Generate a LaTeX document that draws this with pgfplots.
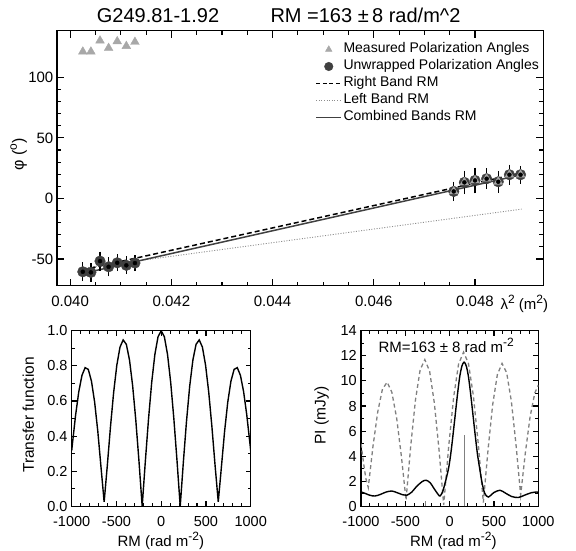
\documentclass[border=0pt]{standalone}
\usepackage{pgfplots}
\usepackage{pgfplotstable}
\pgfplotsset{compat=1.18}
\usepackage{fontspec}
\setmainfont{Liberation Sans}
\definecolor{dg}{gray}{0.25}
\definecolor{lg}{gray}{0.66}
\definecolor{dotc}{gray}{0.55}
\definecolor{dashc}{gray}{0.5}
\newcommand{\SP}[1]{\raisebox{0.42em}{\fontsize{12}{12}\selectfont #1}}

\pgfplotstableread{
x y e
0.04025 -60.5 5.5
0.04041 -61.0 5.5
0.04059 -51.7 5.5
0.04076 -56.4 5.5
0.04093 -53.1 4.6
0.04111 -55.2 5.0
0.04128 -53.3 4.3
}\leftgrp
\pgfplotstableread{
x y e
0.04758 5.8 5.7
0.04779 13.3 7.3
0.04800 14.9 8.3
0.04823 16.3 6.2
0.04846 13.8 6.6
0.04868 19.6 6.0
0.04890 19.6 5.1
}\rightgrp
\pgfplotstableread{
x y
0.04025 121.2
0.04041 121.2
0.04059 130.3
0.04076 124.2
0.04093 129.7
0.04111 125.8
0.04128 129.2
0.04758 5.8
0.04779 13.3
0.04800 14.9
0.04823 16.3
0.04846 13.8
0.04868 19.6
0.04890 19.6
}\measured

\pgfplotsset{
  idl/.style={
    scale only axis, clip=true,
    axis line style={line width=1.3pt},
    tick align=inside,
    tick style={black, line width=1.1pt},
    /pgf/number format/assume math mode=true,
    /pgf/number format/set thousands separator={},
    tick label style={inner sep=0pt},
  }
}

\begin{document}
\begin{tikzpicture}
% ---------------- top panel ----------------
\begin{axis}[idl,
  at={(57pt,265.3pt)}, anchor=south west,
  width=486.3pt, height=255pt,
  xmin=0.03974, xmax=0.04935, ymin=-72, ymax=138.5,
  xtick={0.040,0.042,0.044,0.046,0.048}, minor x tick num=3,
  ytick={-50,0,50,100}, minor y tick num=4,
  major tick length=7pt, minor tick length=4pt,
  scaled x ticks=false,
  tick label style={font=\fontsize{15}{18}\selectfont},
  x tick label style={/pgf/number format/fixed,/pgf/number format/fixed zerofill,/pgf/number format/precision=3},
  xticklabel shift=10.5pt, yticklabel shift=3.5pt,
  legend style={draw=none, fill=none, inner sep=0pt, outer sep=0pt,
    at={(0.5316,0.9596)}, anchor=north west,
    font=\fontsize{14}{16}\selectfont,
    nodes={inner sep=1.5pt, text height=10.5pt, text depth=3.5pt},
    row sep=0pt},
  legend cell align=left,
  legend image code/.code={\draw[mark repeat=2,mark phase=2,#1] plot coordinates {(0pt,0pt) (12.5pt,0pt) (25pt,0pt)};},
]
\addlegendimage{only marks, mark=triangle*, mark size=3.8pt, color=lg}
\addlegendentry{Measured Polarization Angles}
\addlegendimage{only marks, mark=*, mark size=4.3pt, color=dg}
\addlegendentry{Unwrapped Polarization Angles}
\addlegendimage{black, line width=1.5pt, dash pattern=on 4pt off 2.5pt}
\addlegendentry{Right Band RM}
\addlegendimage{dotc, line width=0.9pt, dash pattern=on 1pt off 1.6pt}
\addlegendentry{Left Band RM}
\addlegendimage{dg, line width=1.5pt}
\addlegendentry{Combined Bands RM}

% fitted lines
\addplot[forget plot, dotc, line width=0.9pt, dash pattern=on 1pt off 1.6pt] coordinates {(0.04025,-57.6) (0.04892,-8.8)};
\addplot[forget plot, black, line width=1.5pt, dash pattern=on 5pt off 3pt] coordinates {(0.04025,-58.9) (0.04890,20.9)};
\addplot[forget plot, dg, line width=1.5pt] coordinates {(0.04025,-61.9) (0.04890,19.4)};

% unwrapped angles
\addplot[forget plot, only marks, mark=*, mark size=5.3pt, color=dg] table[x=x,y=y]{\leftgrp};
\addplot[forget plot, only marks, mark=*, mark size=5.3pt, color=dg] table[x=x,y=y]{\rightgrp};
% measured angles
\addplot[forget plot, only marks, mark=triangle*, mark size=5pt, color=lg] table[x=x,y=y]{\measured};
% error bars
\addplot[forget plot, only marks, mark=none,
  error bars/.cd, y dir=both, y explicit, error mark=-,
  error bar style={black, line width=1.3pt},
  error mark options={black, line width=1.3pt, mark size=2.8pt}]
  table[x=x,y=y,y error=e]{\leftgrp};
\addplot[forget plot, only marks, mark=none,
  error bars/.cd, y dir=both, y explicit, error mark=-,
  error bar style={black, line width=1.3pt},
  error mark options={black, line width=1.3pt, mark size=2.8pt}]
  table[x=x,y=y,y error=e]{\rightgrp};
\end{axis}

% ---------------- bottom left: transfer function ----------------
\begin{axis}[idl,
  at={(71.7pt,44.7pt)}, anchor=south west,
  width=179pt, height=175.5pt,
  xmin=-1000, xmax=1000, ymin=0, ymax=1.0,
  xtick={-1000,-500,0,500,1000}, minor x tick num=4,
  ytick={0,0.2,0.4,0.6,0.8,1.0}, minor y tick num=1,
  major tick length=5pt, minor tick length=3pt,
  tick label style={font=\fontsize{14.5}{17}\selectfont},
  y tick label style={/pgf/number format/fixed,/pgf/number format/fixed zerofill,/pgf/number format/precision=1},
  xticklabel shift=10pt, yticklabel shift=4pt,
]
\addplot[black, line width=1.4pt] coordinates {
(-1000,0.317) (-991.7,0.357) (-956.3,0.520) (-920.8,0.653) (-885.4,0.746) (-850,0.790)
(-814.6,0.780) (-779.2,0.713) (-743.8,0.594) (-708.3,0.427) (-672.9,0.225) (-637.5,0.025)
(-602.1,0.232) (-566.7,0.453) (-531.3,0.649) (-495.8,0.804) (-460.4,0.907) (-425,0.948)
(-389.6,0.923) (-354.2,0.834) (-318.8,0.686) (-283.3,0.488) (-247.9,0.254) (-212.5,0.000)
(-177.1,0.257) (-141.7,0.497) (-106.3,0.705) (-70.8,0.865) (-35.4,0.966) (0,1.000)
(35.4,0.966) (70.8,0.865) (106.3,0.705) (141.7,0.497) (177.1,0.257) (212.5,0.000)
(247.9,0.254) (283.3,0.488) (318.8,0.686) (354.2,0.834) (389.6,0.923) (425,0.948)
(460.4,0.907) (495.8,0.804) (531.3,0.649) (566.7,0.453) (602.1,0.232) (637.5,0.025)
(672.9,0.225) (708.3,0.427) (743.8,0.594) (779.2,0.713) (814.6,0.780) (850,0.790)
(885.4,0.746) (920.8,0.653) (956.3,0.520) (991.7,0.357) (1000,0.317)
};
\end{axis}

% ---------------- bottom right: RM spectrum ----------------
\begin{axis}[idl,
  at={(361pt,44.7pt)}, anchor=south west,
  width=177.3pt, height=175.5pt,
  xmin=-1000, xmax=1000, ymin=0, ymax=14,
  xtick={-1000,-500,0,500,1000}, minor x tick num=4,
  ytick={0,2,4,6,8,10,12,14}, minor y tick num=1,
  major tick length=5pt, minor tick length=3pt,
  tick label style={font=\fontsize{14.5}{17}\selectfont},
  xticklabel shift=10pt, yticklabel shift=4pt,
]
\addplot[dashc, line width=1.3pt, dash pattern=on 4pt off 3pt] coordinates {
(-1000,5.0) (-972,3.5) (-945,2.2) (-918,1.5)
(-865,4.78) (-811,7.54) (-758,9.35) (-705,9.9) (-652,9.1) (-598,7.04) (-545,4.03) (-492,0.5)
(-439,4.82) (-386,8.46) (-333,10.88) (-280,11.7) (-226,10.78) (-173,8.26) (-120,4.52) (-67,0.1)
(-11,4.76) (45,8.7) (101,11.36) (157,12.3) (212,11.4) (268,8.8) (324,4.9) (380,0.3)
(433,4.51) (485,8.09) (538,10.5) (591,11.4) (643,10.66) (696,8.39) (748,4.96) (801,0.9)
(854,4.27) (907,7.12) (960,9.03) (1000,9.66)
};
\addplot[black, line width=1.4pt, smooth, tension=0.5] coordinates {
(-1000,1.15) (-950,1.02) (-900,0.88) (-842,0.82) (-780,0.95) (-720,1.13) (-654,1.22)
(-590,1.08) (-530,0.92) (-485,0.88) (-430,1.12) (-370,1.6) (-310,1.97) (-267,2.08)
(-220,1.88) (-170,1.35) (-130,0.95) (-109,0.82) (-80,1.15) (-50,1.9) (-13,3.0) (13,4.2)
(38,5.7) (63,7.3) (88,8.9) (113,10.3) (138,11.18) (163,11.5) (188,11.18) (213,10.3)
(238,8.9) (263,7.3) (288,5.7) (313,4.2) (339,3.0) (365,1.9) (395,1.05) (436,0.74)
(500,1.1) (568,1.28) (630,1.05) (700,0.78) (774,0.7) (850,0.9) (920,1.08) (982,1.14) (1000,1.13)
};
\addplot[dashc, line width=1pt, ycomb, mark=none] coordinates {(163,5.7) (-267,0.4)};
\end{axis}

% ---------------- texts ----------------
\node[anchor=base, font=\fontsize{20}{24}\selectfont] at (158pt,528.2pt) {G249.81-1.92};
\node[anchor=base, font=\fontsize{20}{24}\selectfont] at (365.5pt,528.2pt) {RM =163 ±\,8 rad/m\textasciicircum 2};
\node[rotate=90, font=\fontsize{16}{19}\selectfont] at (18.7pt,396.3pt) {φ (\SP{o})};
\node[anchor=base west, font=\fontsize{15}{18}\selectfont] at (497pt,241.6pt) {λ\SP{2} (m\SP{2})};
\node[rotate=90, font=\fontsize{15.5}{18}\selectfont] at (28.3pt,136pt) {Transfer function};
\node[rotate=90, font=\fontsize{15.5}{18}\selectfont] at (321.7pt,135.5pt) {PI (mJy)};
\node[anchor=base, font=\fontsize{15}{18}\selectfont] at (160.8pt,4pt) {RM (rad m\SP{-2})};
\node[anchor=base, font=\fontsize{15}{18}\selectfont] at (453.3pt,4pt) {RM (rad m\SP{-2})};
\node[anchor=base west, font=\fontsize{15}{18}\selectfont] at (375pt,198.3pt) {RM=163 ± 8 rad m\SP{-2}};

\pgfresetboundingbox
\path[use as bounding box] (0pt,0pt) rectangle (576pt,551pt);
\end{tikzpicture}
\end{document}
